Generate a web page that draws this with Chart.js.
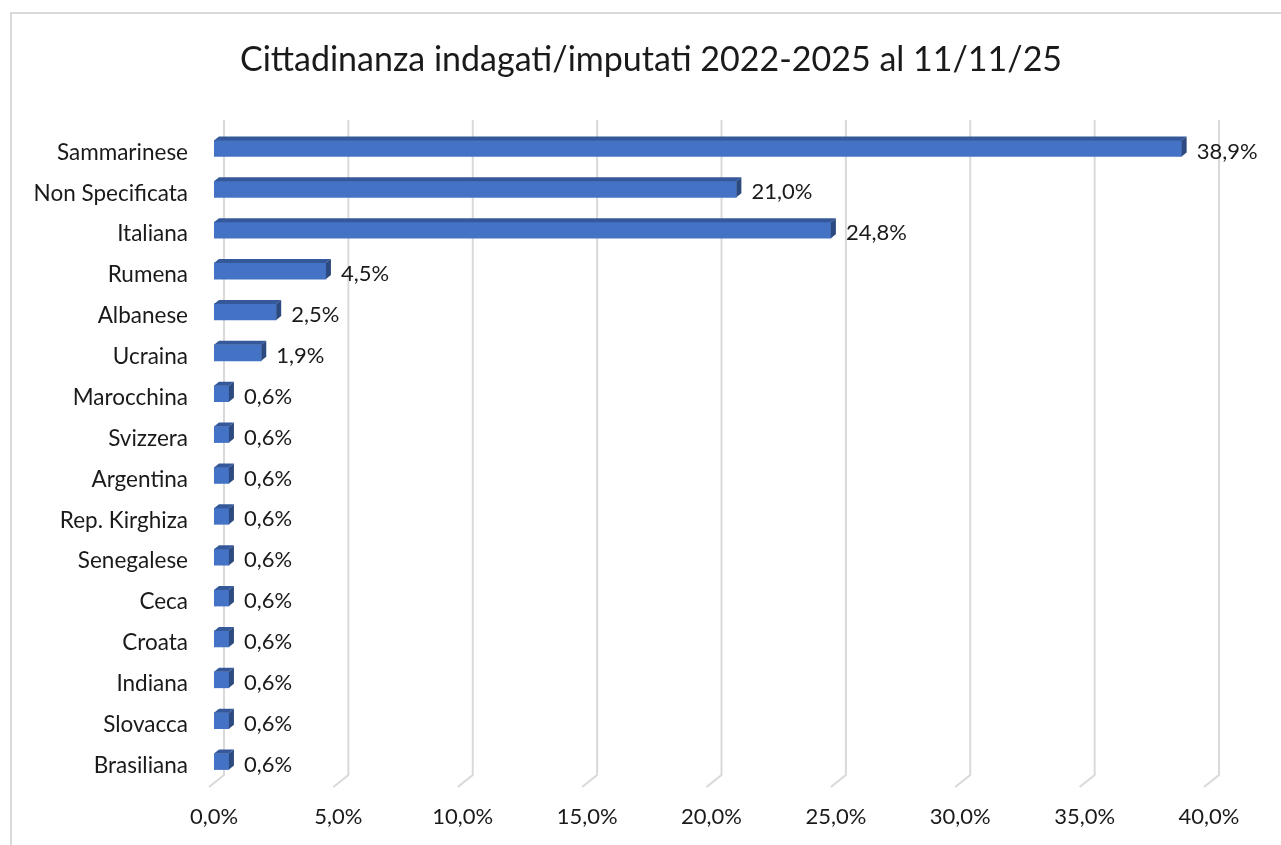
<!DOCTYPE html>
<html><head><meta charset="utf-8">
<script src="https://cdn.jsdelivr.net/npm/chart.js@4/dist/chart.umd.min.js"></script>
<style>html,body{margin:0;padding:0;background:#fff;}#wrap{width:1281px;height:845px;}</style>
</head><body><div id="wrap"><canvas id="c" width="1281" height="845"></canvas></div>
<script>
const categories = ["Sammarinese","Non Specificata","Italiana","Rumena","Albanese","Ucraina","Marocchina","Svizzera","Argentina","Rep. Kirghiza","Senegalese","Ceca","Croata","Indiana","Slovacca","Brasiliana"];
const percentages = [38.9,21.0,24.8,4.5,2.5,1.9,0.6,0.6,0.6,0.6,0.6,0.6,0.6,0.6,0.6,0.6];
const xTicks = [0,5,10,15,20,25,30,35,40];
const titleText = "Cittadinanza indagati/imputati 2022-2025 al 11/11/25";

const FONT = "Lato";
const fmt = v => v.toFixed(1).replace('.', ',') + '%';

const frame = {
  id: 'frame',
  beforeDraw(chart) {
    const c = chart.ctx;
    c.save();
    c.fillStyle = '#fff';
    c.fillRect(0, 0, chart.width, chart.height);
    c.strokeStyle = '#d9d9d9';
    c.lineWidth = 2;
    c.strokeRect(11, 13, chart.width + 20, chart.height + 20);
    c.fillStyle = '#1a1a1a';
    c.font = '34px ' + FONT;
    c.textAlign = 'center';
    c.textBaseline = 'middle';
    c.fillText(titleText, 651, 60);
    c.restore();
  }
};

const grid3d = {
  id: 'grid3d',
  beforeDatasetsDraw(chart) {
    const c = chart.ctx, xs = chart.scales.x, a = chart.chartArea;
    c.save();
    c.strokeStyle = '#d9d9d9';
    c.lineWidth = 2;
    xTicks.forEach(v => {
      const x = xs.getPixelForValue(v);
      c.beginPath();
      c.moveTo(x + 10, a.top - 8);
      c.lineTo(x + 10, a.bottom - 7);
      c.lineTo(x - 5, a.bottom + 5);
      c.stroke();
    });
    c.restore();
  }
};

const bars3d = {
  id: 'bars3d',
  afterDatasetsDraw(chart) {
    const c = chart.ctx;
    const meta = chart.getDatasetMeta(0);
    const dx = 5, dy = 4;
    c.save();
    meta.data.forEach((bar, i) => {
      const x0 = bar.base, x1 = bar.x;
      const yT = bar.y - bar.height / 2, yB = bar.y + bar.height / 2;
      c.fillStyle = '#34589a';
      c.beginPath();
      c.moveTo(x0, yT); c.lineTo(x0 + dx, yT - dy); c.lineTo(x1 + dx, yT - dy); c.lineTo(x1, yT); c.closePath();
      c.fill();
      c.fillStyle = '#2c4a80';
      c.beginPath();
      c.moveTo(x1, yT); c.lineTo(x1 + dx, yT - dy); c.lineTo(x1 + dx, yB - dy); c.lineTo(x1, yB); c.closePath();
      c.fill();
      c.fillStyle = '#1a1a1a';
      c.font = '22px ' + FONT;
      c.textAlign = 'left';
      c.textBaseline = 'middle';
      c.fillText(fmt(percentages[i]), x1 + 15, bar.y + 3);
    });
    c.restore();
  }
};

new Chart(document.getElementById('c'), {
  type: 'bar',
  data: {
    labels: categories,
    datasets: [{
      data: percentages,
      backgroundColor: '#4472c4',
      borderWidth: 0,
      barThickness: 16
    }]
  },
  options: {
    indexAxis: 'y',
    responsive: false,
    animation: false,
    layout: { padding: { left: 0, right: 72, top: 128, bottom: 0 } },
    plugins: {
      legend: { display: false },
      tooltip: { enabled: false },
      title: { display: false }
    },
    scales: {
      x: {
        min: 0, max: 40,
        afterBuildTicks(s) { s.ticks = xTicks.map(v => ({ value: v })); },
        grid: { display: false, drawTicks: false },
        border: { display: false },
        ticks: {
          callback: v => fmt(v),
          color: '#1a1a1a',
          font: { family: FONT, size: 22 },
          padding: 22,
          maxRotation: 0
        },
        afterFit(s) { s.height = 63; }
      },
      y: {
        grid: { display: false, drawTicks: false },
        border: { display: false },
        ticks: {
          color: '#1a1a1a',
          font: { family: FONT, size: 22.5 },
          padding: 26,
          labelOffset: 4,
          autoSkip: false
        },
        afterFit(s) { s.width = 214; }
      }
    }
  },
  plugins: [frame, grid3d, bars3d]
});
</script></body></html>
